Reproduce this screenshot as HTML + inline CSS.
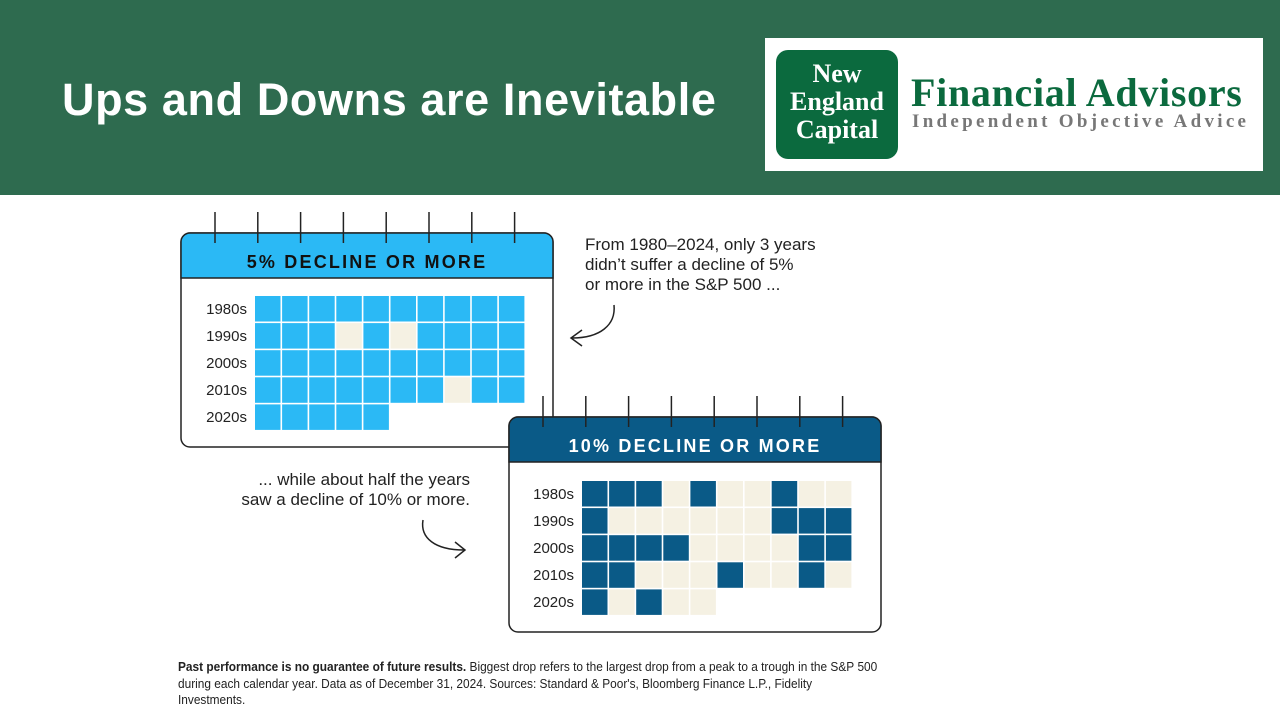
<!DOCTYPE html>
<html><head><meta charset="utf-8"><style>
body{margin:0;width:1280px;height:720px;overflow:hidden;background:#fff;font-family:"Liberation Sans",sans-serif;position:relative}
#hdr{position:absolute;left:0;top:0;width:1280px;height:195px;background:#2e6b4f}
#title{position:absolute;left:62px;top:74px;color:#fff;font-size:45px;font-weight:bold;white-space:nowrap;letter-spacing:0.6px}
#logo{position:absolute;left:765px;top:38px;width:498px;height:133px;background:#fff}
#badge{position:absolute;left:11px;top:12px;width:122px;height:109px;background:#0b6a3e;border-radius:12px;color:#fff;font-family:"Liberation Serif",serif;font-weight:bold;font-size:26px;line-height:28px;text-align:center;padding-top:10px;box-sizing:border-box}
#fa{position:absolute;left:146px;top:31px;color:#0b6a3e;font-family:"Liberation Serif",serif;font-weight:bold;font-size:40px;white-space:nowrap;letter-spacing:0.7px}
#ioa{position:absolute;left:147px;top:73px;color:#777;font-family:"Liberation Serif",serif;font-weight:bold;font-size:19px;letter-spacing:3.3px;white-space:nowrap}
#foot{position:absolute;left:178px;top:659px;width:792px;font-size:13.2px;line-height:16.5px;color:#222;transform:scaleX(0.9);transform-origin:0 0}
</style></head><body>
<div id="hdr"></div>
<div id="title">Ups and Downs are Inevitable</div>
<div id="logo">
<div id="badge">New<br>England<br>Capital</div>
<div id="fa">Financial Advisors</div>
<div id="ioa">Independent Objective Advice</div>
</div>
<svg id="chart" width="1280" height="720" style="position:absolute;left:0;top:0"></svg>
<div id="foot"><b>Past performance is no guarantee of future results.</b> Biggest drop refers to the largest drop from a peak to a trough in the S&amp;P&nbsp;500 during each calendar year. Data as of December 31, 2024. Sources: Standard &amp; Poor's, Bloomberg Finance L.P., Fidelity<br>Investments.</div>
<script>
const decades=["1980s","1990s","2000s","2010s","2020s"];
const decline5=[[1,1,1,1,1,1,1,1,1,1],[1,1,1,0,1,0,1,1,1,1],[1,1,1,1,1,1,1,1,1,1],[1,1,1,1,1,1,1,0,1,1],[1,1,1,1,1]];
const decline10=[[1,1,1,0,1,0,0,1,0,0],[1,0,0,0,0,0,0,1,1,1],[1,1,1,1,0,0,0,0,1,1],[1,1,0,0,0,1,0,0,1,0],[1,0,1,0,0]];
const svg=document.getElementById('chart');
const NS='http://www.w3.org/2000/svg';
function mk(t,a,txt){const e=document.createElementNS(NS,t);for(const k in a)e.setAttribute(k,a[k]);if(txt!==undefined)e.textContent=txt;svg.appendChild(e);return e;}
function cal(x,y,w,h,color,titleTxt,titleColor,data,gx,gy,name){
  const g=mk('rect',{x:x,y:y,width:w,height:h,rx:9,fill:'#fff',stroke:'#222','stroke-width':1.5});
  
  
  const hd=mk('path',{d:`M${x} ${y+45} V${y+9} a9 9 0 0 1 9 -9 H${x+w-9} a9 9 0 0 1 9 9 V${y+45} Z`,fill:color,stroke:'#222','stroke-width':1.5});
  
  
  const t=mk('text',{x:x+w/2,y:y+35,'text-anchor':'middle','font-size':18,'font-weight':'bold','letter-spacing':2.2,fill:titleColor},titleTxt);
  
  
  for(let i=0;i<8;i++){const l=mk('line',{x1:x+34+i*42.8,x2:x+34+i*42.8,y1:y-21,y2:y+10,stroke:'#222','stroke-width':1.5});
    
    }
  data.forEach((row,r)=>{
    const lb=mk('text',{x:gx-8,y:gy+r*27+18,'text-anchor':'end','font-size':15,fill:'#222'},decades[r]);
    
    
    row.forEach((v,c)=>{const rc=mk('rect',{x:gx+c*27.1,y:gy+r*27.1,width:25.5,height:25.5,fill:v?color:'#f5f1e3'});
      
      });
  });
}
cal(181,233,372,214,'#2bb9f5','5% DECLINE OR MORE','#111',decline5,255,296,'five-pct');
cal(509,417,372,215,'#0a5a87','10% DECLINE OR MORE','#fff',decline10,582,481,'ten-pct');
function lines(x,y,arr,anchor,name){arr.forEach((s,i)=>{const t=mk('text',{x:x,y:y+i*20,'font-size':17,fill:'#222','text-anchor':anchor},s);
  
  });}
lines(585,250,["From 1980–2024, only 3 years","didn’t suffer a decline of 5%","or more in the S&P 500 ..."],'start','annotation-5pct');
lines(470,485,["... while about half the years","saw a decline of 10% or more."],'end','annotation-10pct');
const a1=mk('path',{d:'M614 305 C616 325 600 338 572 338 M582 330 L571 338 L582 346',fill:'none',stroke:'#222','stroke-width':1.5});


const a2=mk('path',{d:'M423 520 C420 538 435 550 464 550 M455 542 L465 550 L455 558',fill:'none',stroke:'#222','stroke-width':1.5});


</script>
</body></html>
